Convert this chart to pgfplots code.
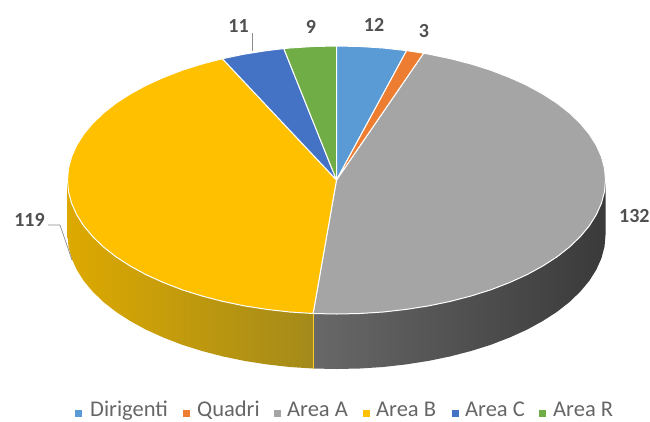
\documentclass[border=0pt]{standalone}
\usepackage{pgfplots}
\pgfplotsset{compat=1.18}
\usepackage{fontspec}
\setmainfont{Carlito}
\definecolor{cDir}{HTML}{5B9BD5}
\definecolor{cQua}{HTML}{ED7D31}
\definecolor{cAA}{HTML}{A5A5A5}
\definecolor{cAB}{HTML}{FFC000}
\definecolor{cAC}{HTML}{4472C4}
\definecolor{cAR}{HTML}{70AD47}
\definecolor{lab}{HTML}{505050}
\definecolor{leg}{HTML}{666666}
\definecolor{sgA}{HTML}{686868}
\definecolor{sgB}{HTML}{3A3A3A}
\definecolor{syA}{HTML}{DDA900}
\definecolor{syB}{HTML}{A38A1A}
% Values: Dirigenti 12, Quadri 3, Area A 132, Area B 119, Area C 11, Area R 9
\begin{document}
\begin{tikzpicture}[x=1pt,y=1pt]
\begin{axis}[
  scale only axis, width=650pt, height=421pt,
  xmin=0, xmax=650, ymin=0, ymax=421, y dir=reverse,
  hide axis, clip=true,
  every axis plot/.append style={mark=none},
]
\path (axis cs:0,0) rectangle (axis cs:650,421);
% side of Area A
\addplot[draw=none, left color=sgA, right color=sgB] coordinates {
(605.5,180)(604.5,191.7)(601.4,203.3)(596.3,214.7)(589.3,225.8)(580.3,236.6)(569.5,247)(556.9,256.9)(542.6,266.1)(526.7,274.8)(509.4,282.6)(490.8,289.8)(471,296)(450.2,301.4)(428.5,305.9)(406.1,309.4)(383.2,312)(359.9,313.5)(336.5,314)(313.1,313.5)
(313.1,368.5)(336.5,369)(359.9,368.5)(383.2,367)(406.1,364.4)(428.5,360.9)(450.2,356.4)(471,351)(490.8,344.8)(509.4,337.6)(526.7,329.8)(542.6,321.1)(556.9,311.9)(569.5,302)(580.3,291.6)(589.3,280.8)(596.3,269.7)(601.4,258.3)(604.5,246.7)(605.5,235)
} -- cycle;
% side of Area B
\addplot[draw=none, left color=syA, right color=syB] coordinates {
(313.1,313.5)(289.8,312)(266.9,309.4)(244.5,305.9)(222.8,301.4)(202,296)(182.2,289.8)(163.6,282.6)(146.3,274.8)(130.4,266.1)(116.1,256.9)(103.5,247)(92.7,236.6)(83.7,225.8)(76.7,214.7)(71.6,203.3)(68.5,191.7)(67.5,180)
(67.5,235)(68.5,246.7)(71.6,258.3)(76.7,269.7)(83.7,280.8)(92.7,291.6)(103.5,302)(116.1,311.9)(130.4,321.1)(146.3,329.8)(163.6,337.6)(182.2,344.8)(202,351)(222.8,356.4)(244.5,360.9)(266.9,364.4)(289.8,367)(313.1,368.5)
} -- cycle;
\addplot[draw=cAB!80!white, line width=0.8pt] coordinates {(313.1,313.5)(313.1,368.5)};
% top of the pie
\addplot[fill=cAA, draw=white, line width=1pt, line join=round] coordinates {
(336.5,180)(423.6,53.2)(428.5,54.1)(450.2,58.6)(471,64)(490.8,70.2)(509.4,77.4)(526.7,85.2)(542.6,93.9)(556.9,103.1)(569.5,113)(580.3,123.4)(589.3,134.2)(596.3,145.3)(601.4,156.7)(604.5,168.3)(605.5,180)(604.5,191.7)(601.4,203.3)(596.3,214.7)(589.3,225.8)(580.3,236.6)(569.5,247)(556.9,256.9)(542.6,266.1)(526.7,274.8)(509.4,282.6)(490.8,289.8)(471,296)(450.2,301.4)(428.5,305.9)(406.1,309.4)(383.2,312)(359.9,313.5)(336.5,314)(313.1,313.5)
} -- cycle;
\addplot[fill=cAB, draw=white, line width=1pt, line join=round] coordinates {
(336.5,180)(313.1,313.5)(289.8,312)(266.9,309.4)(244.5,305.9)(222.8,301.4)(202,296)(182.2,289.8)(163.6,282.6)(146.3,274.8)(130.4,266.1)(116.1,256.9)(103.5,247)(92.7,236.6)(83.7,225.8)(76.7,214.7)(71.6,203.3)(68.5,191.7)(67.5,180)(68.5,168.3)(71.6,156.7)(76.7,145.3)(83.7,134.2)(92.7,123.4)(103.5,113)(116.1,103.1)(130.4,93.9)(146.3,85.2)(163.6,77.4)(182.2,70.2)(202,64)(222.4,58.7)
} -- cycle;
\addplot[fill=cAC, draw=white, line width=1pt, line join=round] coordinates {
(336.5,180)(222.4,58.7)(244.5,54.1)(266.9,50.6)(283.8,48.6)
} -- cycle;
\addplot[fill=cAR, draw=white, line width=1pt, line join=round] coordinates {
(336.5,180)(283.8,48.6)(289.8,48)(313.1,46.5)(336.5,46)
} -- cycle;
\addplot[fill=cDir, draw=white, line width=1pt, line join=round] coordinates {
(336.5,180)(336.5,46)(359.9,46.5)(383.2,48)(406.6,50.6)
} -- cycle;
\addplot[fill=cQua, draw=white, line width=1pt, line join=round] coordinates {
(336.5,180)(406.6,50.6)(423.6,53.2)
} -- cycle;
% leader lines
\addplot[draw=black!45, line width=0.7pt] coordinates {(252,33)(252,51)};
\addplot[draw=black!45, line width=0.7pt] coordinates {(48,225)(60,225)(72,260)};
% data labels
\node[text=lab, font=\bfseries\fontsize{20}{20}\selectfont] at (axis cs:238.5,26) {11};
\node[text=lab, font=\bfseries\fontsize{20}{20}\selectfont] at (axis cs:311,27) {9};
\node[text=lab, font=\bfseries\fontsize{20}{20}\selectfont] at (axis cs:374,25) {12};
\node[text=lab, font=\bfseries\fontsize{20}{20}\selectfont] at (axis cs:424,31) {3};
\node[text=lab, font=\bfseries\fontsize{20}{20}\selectfont] at (axis cs:29.5,220) {119};
\node[text=lab, font=\bfseries\fontsize{20}{20}\selectfont, anchor=west, inner sep=0pt] at (axis cs:619,216) {132};
% legend markers
\addplot[only marks, mark=square*, mark size=3.3pt, color=cDir] coordinates {(78,413)};
\addplot[only marks, mark=square*, mark size=3.3pt, color=cQua] coordinates {(186,413)};
\addplot[only marks, mark=square*, mark size=3.3pt, color=cAA] coordinates {(277,413)};
\addplot[only marks, mark=square*, mark size=3.3pt, color=cAB] coordinates {(366,413)};
\addplot[only marks, mark=square*, mark size=3.3pt, color=cAC] coordinates {(455,413)};
\addplot[only marks, mark=square*, mark size=3.3pt, color=cAR] coordinates {(542,413)};
% legend text
\node[text=leg, anchor=base west, inner sep=0pt, font=\fontsize{22.5}{22.5}\selectfont] at (axis cs:90,416.5) {Dirigenti};
\node[text=leg, anchor=base west, inner sep=0pt, font=\fontsize{22.5}{22.5}\selectfont] at (axis cs:197,416.5) {Quadri};
\node[text=leg, anchor=base west, inner sep=0pt, font=\fontsize{22.5}{22.5}\selectfont] at (axis cs:287,416.5) {Area A};
\node[text=leg, anchor=base west, inner sep=0pt, font=\fontsize{22.5}{22.5}\selectfont] at (axis cs:376,416.5) {Area B};
\node[text=leg, anchor=base west, inner sep=0pt, font=\fontsize{22.5}{22.5}\selectfont] at (axis cs:465,416.5) {Area C};
\node[text=leg, anchor=base west, inner sep=0pt, font=\fontsize{22.5}{22.5}\selectfont] at (axis cs:553,416.5) {Area R};
\end{axis}
\end{tikzpicture}
\end{document}
